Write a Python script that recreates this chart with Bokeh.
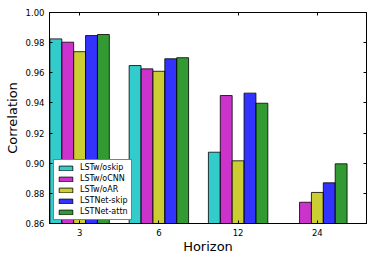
from bokeh.plotting import figure
from bokeh.models import FixedTicker, LinearAxis, Range1d, PrintfTickFormatter, ColumnDataSource
from bokeh.embed import file_html
from bokeh.resources import INLINE

horizons = ["3", "6", "12", "24"]
series_names = ["LSTw/oskip", "LSTw/oCNN", "LSTw/oAR", "LSTNet-skip", "LSTNet-attn"]
lstw_oskip = [0.9825, 0.9648, 0.9073, float("nan")]
lstw_ocnn = [0.9803, 0.9626, 0.9449, 0.8741]
lstw_oar = [0.9740, 0.9610, 0.9016, 0.8806]
lstnet_skip = [0.9847, 0.9693, 0.9465, 0.8870]
lstnet_attn = [0.9854, 0.9700, 0.9398, 0.8996]
series_values = [lstw_oskip, lstw_ocnn, lstw_oar, lstnet_skip, lstnet_attn]
colors = ["#00bfbf", "#bf00bf", "#bfbf00", "#0000ff", "#008000"]
y_ticks = [0.86, 0.88, 0.90, 0.92, 0.94, 0.96, 0.98, 1.00]

FONT = "DejaVu Sans"
bar_w = 0.15

p = figure(width=374, height=261, output_backend="svg", toolbar_location=None,
           x_range=Range1d(-0.38, 3.62), y_range=Range1d(0.86, 1.00),
           min_border_left=49, min_border_top=12, min_border_right=8, min_border_bottom=38)
p.background_fill_color = "white"
p.border_fill_color = "white"
p.outline_line_color = "black"
p.outline_line_width = 1
p.grid.visible = False

for i, (name, vals, col) in enumerate(zip(series_names, series_values, colors)):
    xs = [j + (i - 2) * bar_w for j in range(len(horizons))]
    src = ColumnDataSource(dict(x=xs, top=vals))
    p.vbar(x="x", top="top", bottom=0, width=bar_w, source=src,
           fill_color=col, fill_alpha=0.8, line_color="black", line_alpha=0.8,
           line_width=1, legend_label=name)

xt = FixedTicker(ticks=list(range(len(horizons))))
yt = FixedTicker(ticks=y_ticks)

def style(ax, labels=True):
    ax.axis_line_color = "black"
    ax.major_tick_in = 3
    ax.major_tick_out = 0
    ax.minor_tick_line_color = None
    ax.major_tick_line_color = "black"
    if labels:
        ax.major_label_text_font = FONT
        ax.major_label_text_font_size = "8.5px"
        ax.major_label_text_color = "black"
        ax.major_label_standoff = 5
        ax.axis_label_text_font = FONT
        ax.axis_label_text_font_size = "13px"
        ax.axis_label_text_font_style = "normal"
        ax.axis_label_text_color = "black"
    else:
        ax.major_label_text_font_size = "0px"
        ax.major_label_standoff = 0

xa = p.xaxis[0]
xa.ticker = xt
xa.major_label_overrides = {i: h for i, h in enumerate(horizons)}
xa.axis_label = "Horizon"
xa.axis_label_standoff = 0
style(xa)

ya = p.yaxis[0]
ya.ticker = yt
ya.formatter = PrintfTickFormatter(format="%.2f")
ya.axis_label = "Correlation"
ya.axis_label_standoff = 3
style(ya)

top_ax = LinearAxis(ticker=xt)
style(top_ax, labels=False)
top_ax.major_label_overrides = {i: "" for i in range(len(horizons))}
p.add_layout(top_ax, "above")

right_ax = LinearAxis(ticker=yt)
style(right_ax, labels=False)
right_ax.major_label_overrides = {t: "" for t in y_ticks}
p.add_layout(right_ax, "right")

lg = p.legend[0]
lg.location = (4, 3)
lg.label_text_font = FONT
lg.label_text_font_size = "8px"
lg.label_text_color = "black"
lg.glyph_width = 17
lg.glyph_height = 6
lg.label_height = 9
lg.label_standoff = 6
lg.spacing = 2
lg.padding = 3
lg.margin = 0
lg.border_line_color = "black"
lg.border_line_width = 1
lg.background_fill_color = "white"
lg.background_fill_alpha = 1.0

open("out.html", "w").write(file_html(p, INLINE))
